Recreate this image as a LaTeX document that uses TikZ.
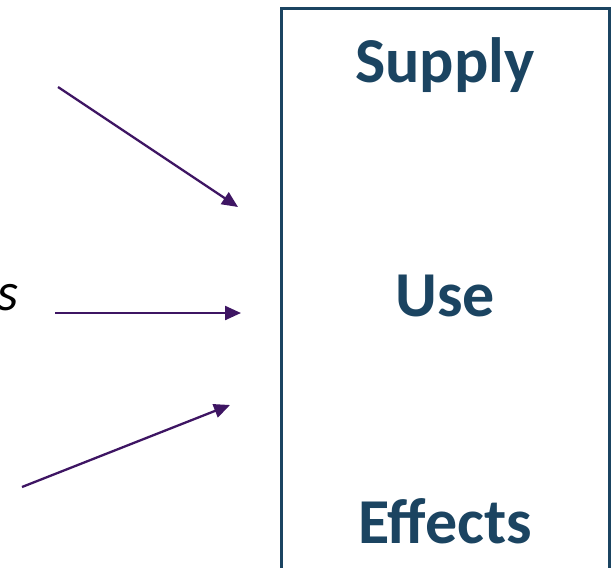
\documentclass[tikz,border=0pt]{standalone}
\usepackage{fontspec}
\setmainfont{Carlito}
\usetikzlibrary{arrows.meta}
\definecolor{boxblue}{HTML}{1B4461}
\definecolor{flowpurple}{HTML}{3E1563}
\tikzset{
  stage/.style={font=\fontsize{64}{64}\selectfont\bfseries, text=boxblue, anchor=base, inner sep=0pt},
  flow/.style={draw=flowpurple, line width=2.3pt, -{Triangle[length=16pt,width=14pt]}},
}
\begin{document}
\begin{tikzpicture}[x=1pt,y=-1pt]
  \useasboundingbox (0,0) rectangle (615,567);
  \clip (0,0) rectangle (615,567);
  % framed column of stages
  \node[draw=boxblue, line width=2.6pt, minimum width=328pt, minimum height=580pt, anchor=north west, inner sep=0pt] (frame) at (280,7) {};
  \node[stage] (supply) at (445,83) {Supply};
  \node[stage] (use) at (445,316) {Use};
  \node[stage] (effects) at (445,543) {Effects};
  % trailing letter of the left label
  \node[font=\fontsize{54}{54}\selectfont\itshape, anchor=base east, inner sep=0pt] (lbl) at (19,310) {s};
  % incoming flows
  \coordinate (a1s) at (58,87);   \coordinate (a1e) at (238,207);
  \coordinate (a2s) at (55,313);  \coordinate (a2e) at (241,313);
  \coordinate (a3s) at (22,487);  \coordinate (a3e) at (230,405);
  \draw[flow] (a1s) -- (a1e);
  \draw[flow] (a2s) -- (a2e);
  \draw[flow] (a3s) -- (a3e);
\end{tikzpicture}
\end{document}
